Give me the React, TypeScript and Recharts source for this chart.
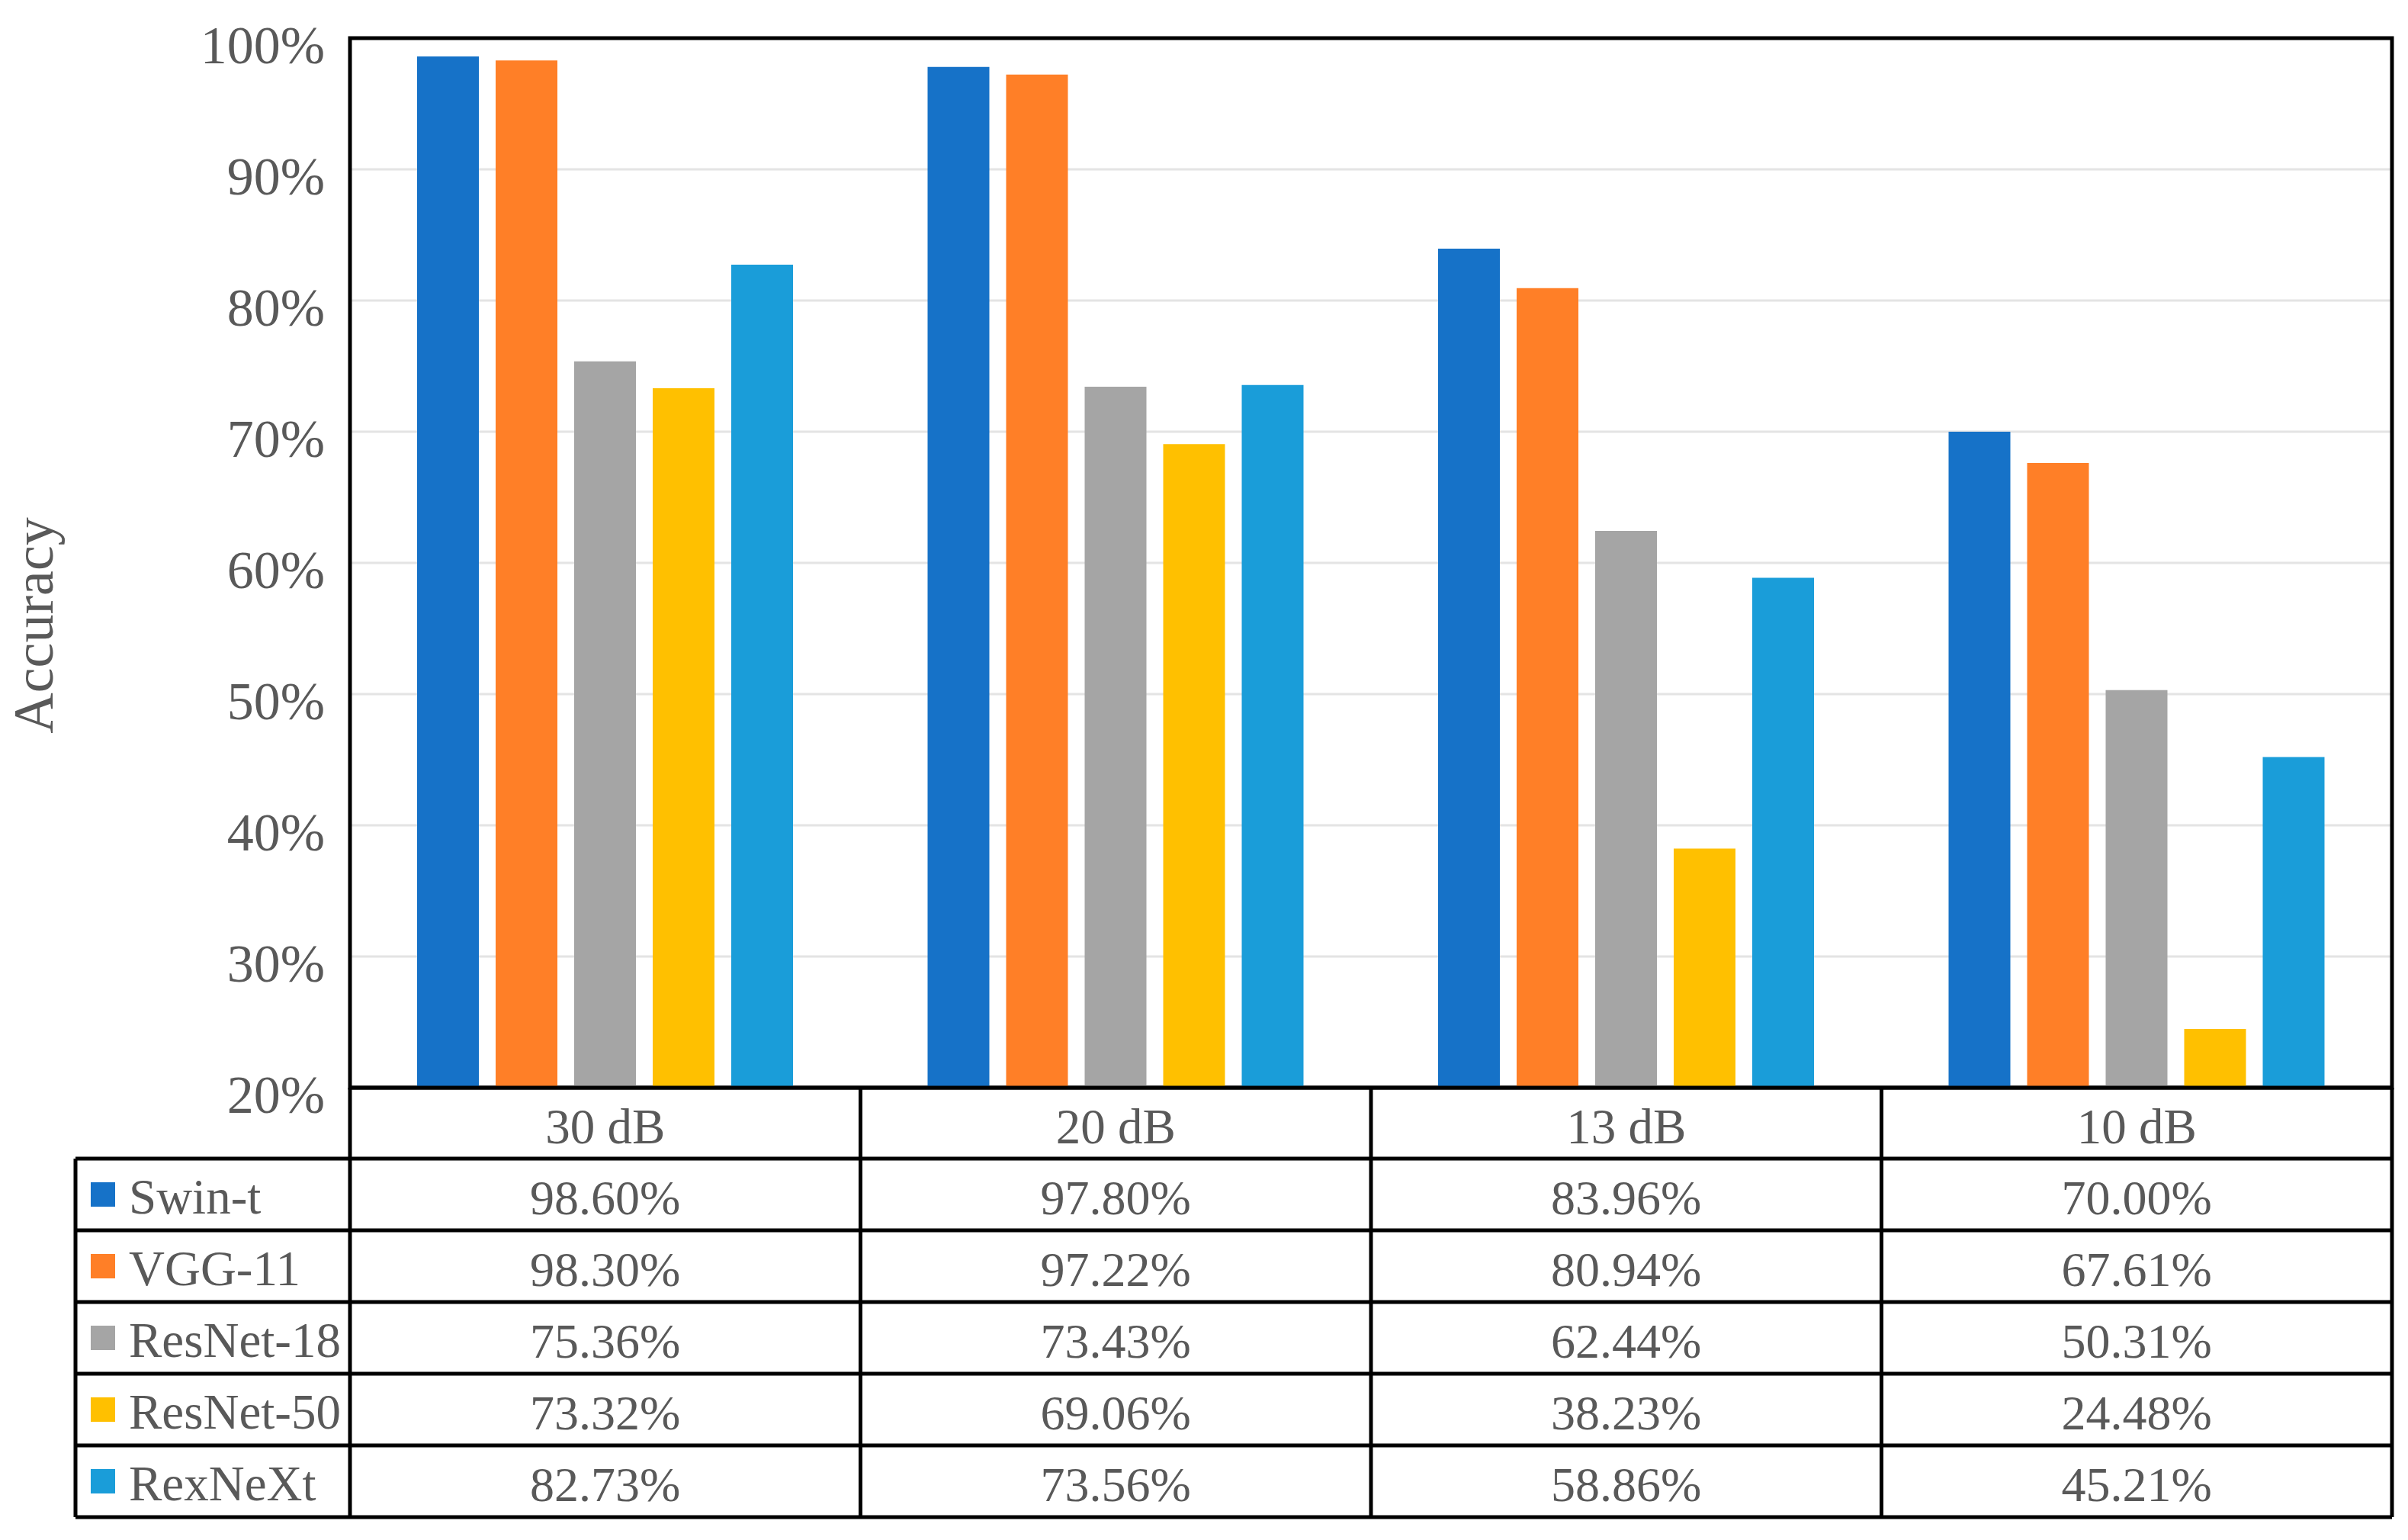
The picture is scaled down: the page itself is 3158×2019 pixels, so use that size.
import React from "react";
import { Bar, BarChart, CartesianGrid, ReferenceArea, XAxis, YAxis } from "recharts";

const categories = ["30 dB", "20 dB", "13 dB", "10 dB"];
const swinT = [98.6, 97.8, 83.96, 70.0];
const vgg11 = [98.3, 97.22, 80.94, 67.61];
const resNet18 = [75.36, 73.43, 62.44, 50.31];
const resNet50 = [73.32, 69.06, 38.23, 24.48];
const rexNeXt = [82.73, 73.56, 58.86, 45.21];
const yTicks = [20, 30, 40, 50, 60, 70, 80, 90, 100];

const series = [
  { key: "swin", name: "Swin-t", values: swinT, color: "#1672C8" },
  { key: "vgg", name: "VGG-11", values: vgg11, color: "#FF7F27" },
  { key: "res18", name: "ResNet-18", values: resNet18, color: "#A5A5A5" },
  { key: "res50", name: "ResNet-50", values: resNet50, color: "#FFC000" },
  { key: "rexnext", name: "RexNeXt", values: rexNeXt, color: "#1A9DD9" },
];

const data = categories.map((category, i) => {
  const row: Record<string, string | number> = { category };
  series.forEach((s) => (row[s.key] = s.values[i]));
  return row;
});

// layout
const W = 3158;
const H = 2019;
const PLOT_LEFT = 459;
const PLOT_TOP = 50;
const PLOT_RIGHT = 3137;
const PLOT_BOTTOM = 1426;
const HEADER_BOTTOM = 1519;
const ROW_H = 94;
const TABLE_LEFT = 99;
const LINE = 5;
const SERIF = '"Liberation Serif", "Times New Roman", serif';
const TEXT = "#595959";

function TableTick(props: any) {
  const { x, payload } = props;
  const i = categories.indexOf(payload.value);
  return (
    <g>
      <text
        x={x}
        y={(PLOT_BOTTOM + HEADER_BOTTOM) / 2 + 4}
        textAnchor="middle"
        dominantBaseline="central"
        fontFamily={SERIF}
        fontSize={65}
        fill={TEXT}
      >
        {payload.value}
      </text>
      {series.map((s, r) => (
        <text
          key={s.key}
          x={x}
          y={HEADER_BOTTOM + ROW_H * (r + 0.5) + 4}
          textAnchor="middle"
          dominantBaseline="central"
          fontFamily={SERIF}
          fontSize={64}
          fill={TEXT}
        >
          {s.values[i].toFixed(2)}%
        </text>
      ))}
    </g>
  );
}

function TableLines() {
  const colW = (PLOT_RIGHT - PLOT_LEFT) / categories.length;
  const tableBottom = HEADER_BOTTOM + ROW_H * series.length;
  const cols = categories.map((_, k) => PLOT_LEFT + colW * (k + 1));
  return (
    <svg
      width={W}
      height={H}
      style={{ position: "absolute", left: 0, top: 0, pointerEvents: "none" }}
    >
      <text
        transform={`rotate(-90 44 820)`}
        x={44}
        y={820}
        textAnchor="middle"
        dominantBaseline="central"
        fontFamily={SERIF}
        fontSize={74}
        fill={TEXT}
      >
        Accuracy
      </text>
      <line x1={PLOT_LEFT} x2={PLOT_RIGHT} y1={PLOT_BOTTOM} y2={PLOT_BOTTOM} stroke="#000" strokeWidth={LINE} />
      {series.map((s, r) => {
        const y = HEADER_BOTTOM + ROW_H * r;
        return (
          <g key={s.key}>
            <line x1={TABLE_LEFT} x2={PLOT_RIGHT} y1={y} y2={y} stroke="#000" strokeWidth={LINE} />
            <rect x={119} y={y + ROW_H / 2 - 16} width={32} height={32} fill={s.color} />
            <text
              x={169}
              y={y + ROW_H / 2 + 3}
              dominantBaseline="central"
              fontFamily={SERIF}
              fontSize={65}
              fill={TEXT}
            >
              {s.name}
            </text>
          </g>
        );
      })}
      <line x1={TABLE_LEFT} x2={PLOT_RIGHT} y1={tableBottom} y2={tableBottom} stroke="#000" strokeWidth={LINE} />
      <line x1={TABLE_LEFT} x2={TABLE_LEFT} y1={HEADER_BOTTOM} y2={tableBottom} stroke="#000" strokeWidth={LINE} />
      <line x1={PLOT_LEFT} x2={PLOT_LEFT} y1={PLOT_BOTTOM} y2={tableBottom} stroke="#000" strokeWidth={LINE} />
      {cols.map((cx) => (
        <line key={cx} x1={cx} x2={cx} y1={PLOT_BOTTOM} y2={tableBottom} stroke="#000" strokeWidth={LINE} />
      ))}
    </svg>
  );
}

export default function App() {
  return (
    <div style={{ position: "absolute", left: 0, top: 0, width: W, height: H, background: "#fff" }}>
      <BarChart
        width={W}
        height={H}
        data={data}
        margin={{ top: PLOT_TOP, right: W - PLOT_RIGHT, bottom: 0, left: 0 }}
        barSize={81}
        barGap={22}
      >
        <CartesianGrid vertical={false} stroke="#E4E4E4" strokeWidth={3} />
        <XAxis
          dataKey="category"
          height={H - PLOT_BOTTOM}
          axisLine={false}
          tickLine={false}
          tickSize={0}
          tickMargin={0}
          interval={0}
          tick={TableTick}
        />
        <YAxis
          domain={[20, 100]}
          ticks={yTicks}
          width={PLOT_LEFT}
          axisLine={false}
          tickLine={false}
          tickSize={0}
          tickMargin={33}
          allowDataOverflow
          tickFormatter={(v) => `${v}%`}
          tick={{ fontSize: 70, fill: TEXT, fontFamily: SERIF, dy: 8 }}
        />
        {series.map((s) => (
          <Bar key={s.key} dataKey={s.key} name={s.name} fill={s.color} isAnimationActive={false} />
        ))}
        <ReferenceArea y1={20} y2={100} fill="none" stroke="#000" strokeWidth={LINE} />
      </BarChart>
      <TableLines />
    </div>
  );
}
